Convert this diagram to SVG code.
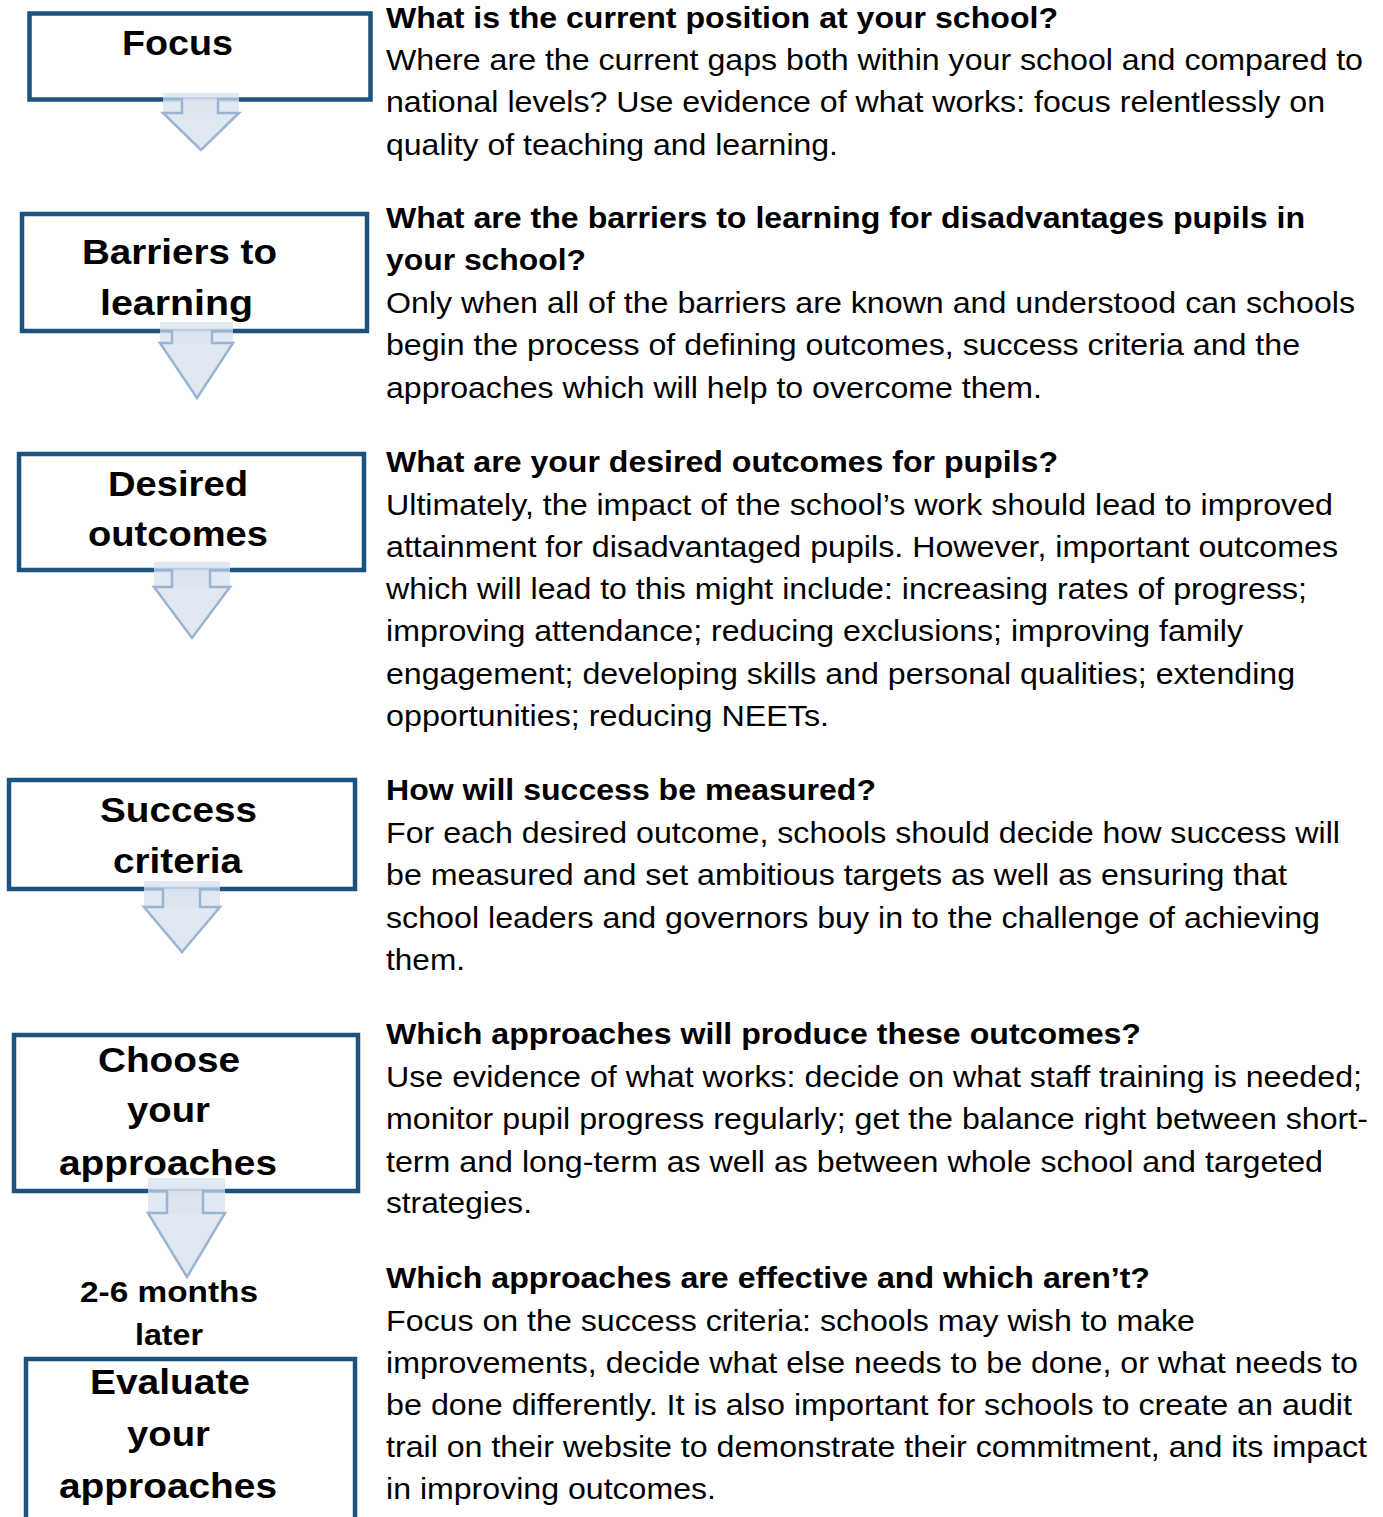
<svg xmlns="http://www.w3.org/2000/svg" width="1383" height="1517" viewBox="0 0 1383 1517">
<style>
.box{fill:#ffffff;stroke:#1b5380;stroke-width:4.5}
.lbl{font-family:"Liberation Sans",Arial,sans-serif;font-weight:bold;font-size:35px;fill:#000}
.sm{font-size:29px}
.hd{font-family:"Liberation Sans",Arial,sans-serif;font-weight:bold;font-size:29px;fill:#000}
.bd{font-family:"Liberation Sans",Arial,sans-serif;font-size:29px;fill:#000}
.abg{fill:#dbe4ef;fill-opacity:0.85}
.arr{fill:#dbe4ef;fill-opacity:0.85;stroke:#9ab4d4;stroke-width:2.5;stroke-linejoin:miter}
</style>
<rect width="1383" height="1517" fill="#ffffff"/>

<g id="node-focus">
<rect class="box" x="29.5" y="13.5" width="341" height="86"/>
<text class="lbl" x="122" y="55" textLength="111" lengthAdjust="spacingAndGlyphs">Focus</text>
</g>
<g id="node-barriers">
<rect class="box" x="22" y="214" width="345" height="117"/>
<text class="lbl" x="82" y="264" textLength="195" lengthAdjust="spacingAndGlyphs">Barriers to</text>
<text class="lbl" x="100" y="315" textLength="153" lengthAdjust="spacingAndGlyphs">learning</text>
</g>
<g id="node-desired">
<rect class="box" x="19" y="454" width="345" height="116"/>
<text class="lbl" x="108" y="496" textLength="140" lengthAdjust="spacingAndGlyphs">Desired</text>
<text class="lbl" x="88" y="546" textLength="180" lengthAdjust="spacingAndGlyphs">outcomes</text>
</g>
<g id="node-success">
<rect class="box" x="9" y="780" width="346" height="109"/>
<text class="lbl" x="100" y="822" textLength="157" lengthAdjust="spacingAndGlyphs">Success</text>
<text class="lbl" x="113" y="873" textLength="129" lengthAdjust="spacingAndGlyphs">criteria</text>
</g>
<g id="node-choose">
<rect class="box" x="14" y="1035" width="344" height="156"/>
<text class="lbl" x="98" y="1072" textLength="142" lengthAdjust="spacingAndGlyphs">Choose</text>
<text class="lbl" x="127" y="1122" textLength="83" lengthAdjust="spacingAndGlyphs">your</text>
<text class="lbl" x="59" y="1175" textLength="218" lengthAdjust="spacingAndGlyphs">approaches</text>
</g>
<g id="node-later">
<text class="lbl sm" x="80" y="1302" textLength="178" lengthAdjust="spacingAndGlyphs">2-6 months</text>
<text class="lbl sm" x="135" y="1345" textLength="68" lengthAdjust="spacingAndGlyphs">later</text>
</g>
<g id="node-evaluate">
<rect class="box" x="26" y="1359" width="329" height="180"/>
<text class="lbl" x="90" y="1394" textLength="160" lengthAdjust="spacingAndGlyphs">Evaluate</text>
<text class="lbl" x="127" y="1446" textLength="83" lengthAdjust="spacingAndGlyphs">your</text>
<text class="lbl" x="59" y="1498" textLength="218" lengthAdjust="spacingAndGlyphs">approaches</text>
</g>

<g id="connectors">
<rect class="abg" x="163" y="93" width="76" height="20"/>
<path class="arr" d="M163,99 H182 V113 H163 L201,150 L239,113 H218 V99 H239"/>
<rect class="abg" x="160" y="322" width="73" height="21"/>
<path class="arr" d="M160,331 H172 V343 H160 L197,398 L233,343 H212 V331 H233"/>
<rect class="abg" x="154" y="562" width="76" height="25"/>
<path class="arr" d="M154,570 H172 V587 H154 L192,638 L230,587 H210 V570 H230"/>
<rect class="abg" x="144" y="881" width="76" height="26"/>
<path class="arr" d="M144,889 H163 V907 H144 L182,952 L220,907 H200 V889 H220"/>
<rect class="abg" x="148" y="1178" width="77" height="35"/>
<path class="arr" d="M148,1191 H167 V1213 H148 L187,1277 L225,1213 H203 V1191 H225"/>
</g>

<g id="text-focus">
<text class="hd" x="386" y="28" textLength="672" lengthAdjust="spacingAndGlyphs">What is the current position at your school?</text>
<text class="bd" x="386" y="70" textLength="977" lengthAdjust="spacingAndGlyphs">Where are the current gaps both within your school and compared to</text>
<text class="bd" x="386" y="112" textLength="939" lengthAdjust="spacingAndGlyphs">national levels? Use evidence of what works: focus relentlessly on</text>
<text class="bd" x="386" y="155" textLength="452" lengthAdjust="spacingAndGlyphs">quality of teaching and learning.</text>
</g>
<g id="text-barriers">
<text class="hd" x="386" y="228" textLength="919" lengthAdjust="spacingAndGlyphs">What are the barriers to learning for disadvantages pupils in</text>
<text class="hd" x="386" y="270" textLength="200" lengthAdjust="spacingAndGlyphs">your school?</text>
<text class="bd" x="386" y="313" textLength="969" lengthAdjust="spacingAndGlyphs">Only when all of the barriers are known and understood can schools</text>
<text class="bd" x="386" y="355" textLength="914" lengthAdjust="spacingAndGlyphs">begin the process of defining outcomes, success criteria and the</text>
<text class="bd" x="386" y="398" textLength="656" lengthAdjust="spacingAndGlyphs">approaches which will help to overcome them.</text>
</g>
<g id="text-desired">
<text class="hd" x="386" y="472" textLength="672" lengthAdjust="spacingAndGlyphs">What are your desired outcomes for pupils?</text>
<text class="bd" x="386" y="515" textLength="947" lengthAdjust="spacingAndGlyphs">Ultimately, the impact of the school’s work should lead to improved</text>
<text class="bd" x="386" y="557" textLength="952" lengthAdjust="spacingAndGlyphs">attainment for disadvantaged pupils. However, important outcomes</text>
<text class="bd" x="386" y="599" textLength="921" lengthAdjust="spacingAndGlyphs">which will lead to this might include: increasing rates of progress;</text>
<text class="bd" x="386" y="641" textLength="857" lengthAdjust="spacingAndGlyphs">improving attendance; reducing exclusions; improving family</text>
<text class="bd" x="386" y="684" textLength="909" lengthAdjust="spacingAndGlyphs">engagement; developing skills and personal qualities; extending</text>
<text class="bd" x="386" y="726" textLength="443" lengthAdjust="spacingAndGlyphs">opportunities; reducing NEETs.</text>
</g>
<g id="text-success">
<text class="hd" x="386" y="800" textLength="490" lengthAdjust="spacingAndGlyphs">How will success be measured?</text>
<text class="bd" x="386" y="843" textLength="954" lengthAdjust="spacingAndGlyphs">For each desired outcome, schools should decide how success will</text>
<text class="bd" x="386" y="885" textLength="901" lengthAdjust="spacingAndGlyphs">be measured and set ambitious targets as well as ensuring that</text>
<text class="bd" x="386" y="928" textLength="934" lengthAdjust="spacingAndGlyphs">school leaders and governors buy in to the challenge of achieving</text>
<text class="bd" x="386" y="970" textLength="79" lengthAdjust="spacingAndGlyphs">them.</text>
</g>
<g id="text-choose">
<text class="hd" x="386" y="1044" textLength="755" lengthAdjust="spacingAndGlyphs">Which approaches will produce these outcomes?</text>
<text class="bd" x="386" y="1087" textLength="976" lengthAdjust="spacingAndGlyphs">Use evidence of what works: decide on what staff training is needed;</text>
<text class="bd" x="386" y="1129" textLength="982" lengthAdjust="spacingAndGlyphs">monitor pupil progress regularly; get the balance right between short-</text>
<text class="bd" x="386" y="1172" textLength="937" lengthAdjust="spacingAndGlyphs">term and long-term as well as between whole school and targeted</text>
<text class="bd" x="386" y="1213" textLength="146" lengthAdjust="spacingAndGlyphs">strategies.</text>
</g>
<g id="text-evaluate">
<text class="hd" x="386" y="1288" textLength="764" lengthAdjust="spacingAndGlyphs">Which approaches are effective and which aren’t?</text>
<text class="bd" x="386" y="1331" textLength="809" lengthAdjust="spacingAndGlyphs">Focus on the success criteria: schools may wish to make</text>
<text class="bd" x="386" y="1373" textLength="972" lengthAdjust="spacingAndGlyphs">improvements, decide what else needs to be done, or what needs to</text>
<text class="bd" x="386" y="1415" textLength="966" lengthAdjust="spacingAndGlyphs">be done differently. It is also important for schools to create an audit</text>
<text class="bd" x="386" y="1457" textLength="981" lengthAdjust="spacingAndGlyphs">trail on their website to demonstrate their commitment, and its impact</text>
<text class="bd" x="386" y="1499" textLength="330" lengthAdjust="spacingAndGlyphs">in improving outcomes.</text>
</g>
</svg>
